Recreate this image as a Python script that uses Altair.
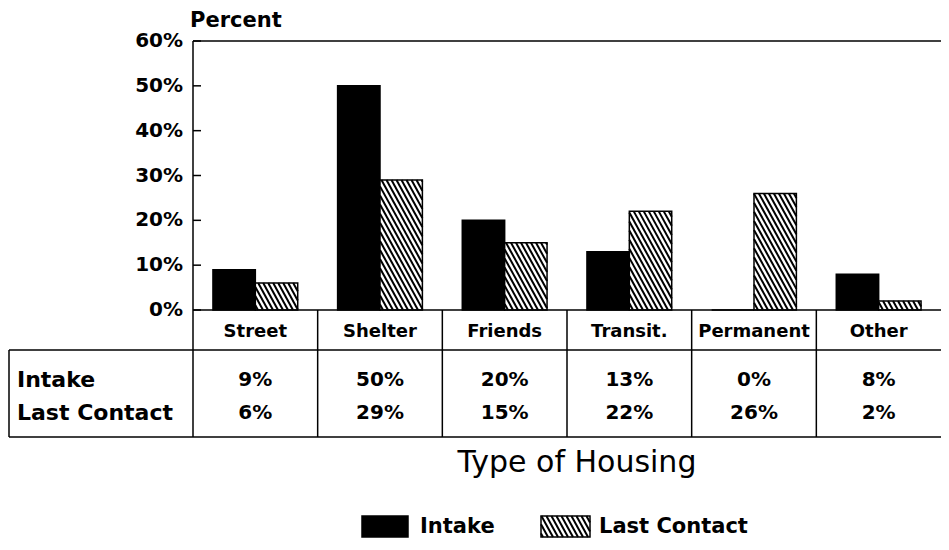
import math
import altair as alt
import pandas as pd

# ---------------- data ----------------
categories = ["Street", "Shelter", "Friends", "Transit.", "Permanent", "Other"]
intake = [9, 50, 20, 13, 0, 8]
last_contact = [6, 29, 15, 22, 26, 2]
series_names = ["Intake", "Last Contact"]
y_ticks = [0, 10, 20, 30, 40, 50, 60]
y_title = "Percent"
x_title = "Type of Housing"

# ---------------- layout / style ----------------
FONT = "DejaVu Sans"
W, H = 748, 269
PAD_L, PAD_T = 185, 33
CANVAS_H = 534
Y_MAX = 60
N = len(categories)
PXX = W / N
PXY = H / Y_MAX
HALF = 0.34           # bar width as fraction of a column
HATCH_SP = 5.0        # horizontal spacing of hatch lines (px)
HATCH_S = 0.55        # dx/dy of hatch lines
HATCH_W = 2.0
LW = 1.5

HEAD_Y = 291
ROW_TOP = 309
ROW_Y = [339, 372]
TABLE_BOT = 396
LEFT_EDGE = -184

xs = alt.Scale(domain=[0, N], nice=False, zero=False)
ys = alt.Scale(domain=[0, Y_MAX], nice=False, zero=True)


def hatch(x0, x1, h):
    """segments (x_a, y_a, x_b, y_b) in px, y measured upward from the bottom"""
    segs = []
    if h <= 0:
        return segs
    k = math.floor(x0 / HATCH_SP)
    while True:
        c = k * HATCH_SP
        if c >= x1 + HATCH_S * h:
            break
        ya = max(0.0, (c - x1) / HATCH_S)
        yb = min(h, (c - x0) / HATCH_S)
        if yb > ya + 0.3:
            segs.append((c - HATCH_S * ya, ya, c - HATCH_S * yb, yb))
        k += 1
    return segs


# bars
rows = []
for i, cat in enumerate(categories):
    c = i + 0.5
    rows.append(dict(cat=cat, series=series_names[0], x=c - HALF, x2=c, v=intake[i], base=0))
    rows.append(dict(cat=cat, series=series_names[1], x=c, x2=c + HALF, v=last_contact[i], base=0))
bars_df = pd.DataFrame(rows)

# hatch lines for the Last Contact bars (data units)
hrows = []
for r in rows:
    if r["series"] != series_names[1]:
        continue
    for (xa, ya, xb, yb) in hatch(r["x"] * PXX, r["x2"] * PXX, r["v"] * PXY):
        hrows.append(dict(x=xa / PXX, y=ya / PXY, x2=xb / PXX, y2=yb / PXY))
hatch_df = pd.DataFrame(hrows)

ticks_df = pd.DataFrame({"t": y_ticks, "lbl": [f"{t}%" for t in y_ticks]})

cat_df = pd.DataFrame({
    "cat": categories,
    "c": [i + 0.5 for i in range(N)],
    "intake_lbl": [f"{v}%" for v in intake],
    "lc_lbl": [f"{v}%" for v in last_contact],
})
col_df = pd.DataFrame({"b": list(range(1, N))})

# table / frame lines in pixel coordinates
lines_df = pd.DataFrame([
    dict(x=0, x2=W, y=0, y2=0),                       # top frame
    dict(x=0, x2=W, y=H, y2=H),                       # zero line / header top
    dict(x=LEFT_EDGE, x2=W, y=ROW_TOP, y2=ROW_TOP),   # header bottom
    dict(x=LEFT_EDGE, x2=W, y=TABLE_BOT, y2=TABLE_BOT),
    dict(x=LEFT_EDGE, x2=LEFT_EDGE, y=ROW_TOP, y2=TABLE_BOT),
    dict(x=0, x2=0, y=0, y2=TABLE_BOT),               # axis line
])

# legend
LEG_T, LEG_B = 475, 496
LEG1 = (169, 215)
LEG2 = (348, 397)
leg_rect_df = pd.DataFrame([
    dict(x=LEG1[0], x2=LEG1[1], y=LEG_T, y2=LEG_B, s=series_names[0]),
    dict(x=LEG2[0], x2=LEG2[1], y=LEG_T, y2=LEG_B, s=series_names[1]),
])
lh = []
for (xa, ya, xb, yb) in hatch(LEG2[0], LEG2[1], LEG_B - LEG_T):
    lh.append(dict(x=xa, y=LEG_B - ya, x2=xb, y2=LEG_B - yb))
leg_hatch_df = pd.DataFrame(lh)

one = pd.DataFrame({"k": [0]})

# ---------------- layers ----------------
bars = alt.Chart(bars_df).mark_rect(stroke="black", strokeWidth=LW).encode(
    x=alt.X("x:Q", scale=xs, axis=None),
    x2="x2:Q",
    y=alt.Y("v:Q", scale=ys, axis=None),
    y2="base:Q",
    color=alt.Color("series:N", scale=alt.Scale(domain=series_names, range=["black", "white"]), legend=None),
)

hatch_layer = alt.Chart(hatch_df).mark_rule(color="black", strokeWidth=HATCH_W).encode(
    x=alt.X("x:Q", scale=xs, axis=None), x2="x2:Q",
    y=alt.Y("y:Q", scale=ys, axis=None), y2="y2:Q",
)

tick_layer = alt.Chart(ticks_df).mark_rule(color="black", strokeWidth=LW).encode(
    y=alt.Y("t:Q", scale=ys, axis=None), x=alt.value(0), x2=alt.value(8),
)
tick_labels = alt.Chart(ticks_df).mark_text(
    font=FONT, fontSize=20, fontWeight="bold", align="right", baseline="middle", color="black"
).encode(
    y=alt.Y("t:Q", scale=ys, axis=None), x=alt.value(-10), text="lbl:N",
)

frame = alt.Chart(lines_df).mark_rule(color="black", strokeWidth=LW).encode(
    x=alt.X("x:Q", scale=None), x2="x2:Q",
    y=alt.Y("y:Q", scale=None), y2="y2:Q",
)

cols = alt.Chart(col_df).mark_rule(color="black", strokeWidth=LW).encode(
    x=alt.X("b:Q", scale=xs, axis=None), y=alt.value(H), y2=alt.value(TABLE_BOT),
)

head = alt.Chart(cat_df).mark_text(font=FONT, fontSize=18, fontWeight="bold", baseline="middle", color="black").encode(
    x=alt.X("c:Q", scale=xs, axis=None), y=alt.value(HEAD_Y), text="cat:N",
)
row1 = alt.Chart(cat_df).mark_text(font=FONT, fontSize=20, fontWeight="bold", baseline="middle", color="black").encode(
    x=alt.X("c:Q", scale=xs, axis=None), y=alt.value(ROW_Y[0]), text="intake_lbl:N",
)
row2 = alt.Chart(cat_df).mark_text(font=FONT, fontSize=20, fontWeight="bold", baseline="middle", color="black").encode(
    x=alt.X("c:Q", scale=xs, axis=None), y=alt.value(ROW_Y[1]), text="lc_lbl:N",
)


def label(text, x, y, size, weight="bold", align="left", baseline="middle"):
    return alt.Chart(one).mark_text(
        text=text, font=FONT, fontSize=size, fontWeight=weight, align=align,
        baseline=baseline, color="black",
    ).encode(x=alt.value(x), y=alt.value(y))


row_labels = [
    label(series_names[0], LEFT_EDGE + 8, ROW_Y[0], 22),
    label(series_names[1], LEFT_EDGE + 8, ROW_Y[1], 22),
]
titles = [
    label(y_title, -3, -14, 21, baseline="alphabetic"),
    label(x_title, 384, 431, 30, weight="normal", align="center", baseline="alphabetic"),
]

leg_rects = alt.Chart(leg_rect_df).mark_rect(stroke="black", strokeWidth=LW).encode(
    x=alt.X("x:Q", scale=None), x2="x2:Q",
    y=alt.Y("y:Q", scale=None), y2="y2:Q",
    fill=alt.Fill("s:N", scale=alt.Scale(domain=series_names, range=["black", "white"]), legend=None),
)
leg_hatch = alt.Chart(leg_hatch_df).mark_rule(color="black", strokeWidth=HATCH_W).encode(
    x=alt.X("x:Q", scale=None), x2="x2:Q",
    y=alt.Y("y:Q", scale=None), y2="y2:Q",
)
leg_text = [
    label(series_names[0], LEG1[1] + 12, (LEG_T + LEG_B) / 2, 21),
    label(series_names[1], LEG2[1] + 9, (LEG_T + LEG_B) / 2, 21),
]

chart = alt.layer(
    bars, hatch_layer, tick_layer, tick_labels, frame, cols, head, row1, row2,
    *row_labels, *titles, leg_rects, leg_hatch, *leg_text,
).properties(
    width=W, height=H,
    autosize=alt.AutoSizeParams(type="none"),
    padding={"left": PAD_L, "top": PAD_T, "right": 0, "bottom": CANVAS_H - PAD_T - H},
    background="white",
).configure_view(stroke=None)

chart.save("out.html", embed_options={"renderer": "svg", "actions": False})
